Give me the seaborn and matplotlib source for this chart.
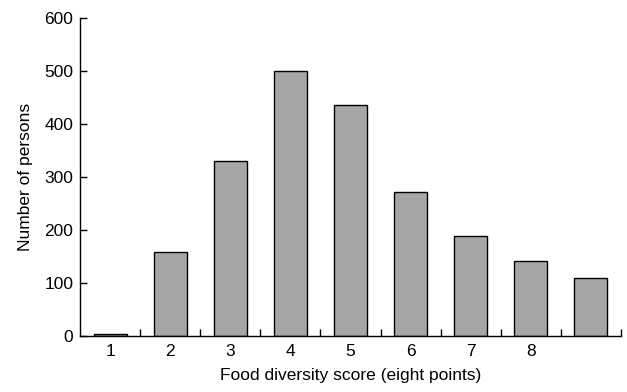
import numpy as np
import pandas as pd
import matplotlib.pyplot as plt
import seaborn as sns
from matplotlib.ticker import FixedLocator

# 막대 값
scores = ["1", "2", "3", "4", "5", "6", "7", "8", "9"]
tick_labels = ["1", "2", "3", "4", "5", "6", "7", "8", ""]
persons = [4, 158, 330, 500, 435, 272, 188, 142, 110]

df = pd.DataFrame({"Score": scores, "Persons": persons})

sns.set_theme(style="ticks")
plt.rcParams["font.family"] = ["Liberation Sans", "DejaVu Sans"]
plt.rcParams["text.color"] = "black"
plt.rcParams["axes.labelcolor"] = "black"
plt.rcParams["xtick.labelcolor"] = "black"
plt.rcParams["ytick.labelcolor"] = "black"

fig, ax = plt.subplots(figsize=(6.27, 3.92), dpi=100)
sns.barplot(data=df, x="Score", y="Persons", color="#a6a6a6", saturation=1,
            edgecolor="black", linewidth=1.0, width=0.55, ax=ax)

ax.set_xlim(-0.5, len(scores) - 0.5)
ax.set_ylim(0, 600)
ax.set_yticks(range(0, 601, 100))
ax.set_xticks(range(len(scores)))
ax.set_xticklabels(tick_labels)
ax.xaxis.set_minor_locator(FixedLocator(np.arange(0.5, len(scores), 1.0)))
ax.tick_params(axis="x", which="major", length=0, labelsize=12.5, pad=6, labelcolor="black")
ax.tick_params(axis="x", which="minor", direction="in", length=5, width=1, color="black")
ax.tick_params(axis="y", direction="in", length=5, width=1, labelsize=12.5,
               color="black", labelcolor="black", pad=5)

ax.set_xlabel("Food diversity score (eight points)", fontsize=12.5, labelpad=6, color="black")
ax.set_ylabel("Number of persons", fontsize=12.5, labelpad=8, color="black")
sns.despine(ax=ax)
for s in ["left", "bottom"]:
    ax.spines[s].set_color("black")
    ax.spines[s].set_linewidth(1.0)

fig.subplots_adjust(left=0.128, right=0.99, top=0.954, bottom=0.143)
fig.savefig("out.png", dpi=100)
